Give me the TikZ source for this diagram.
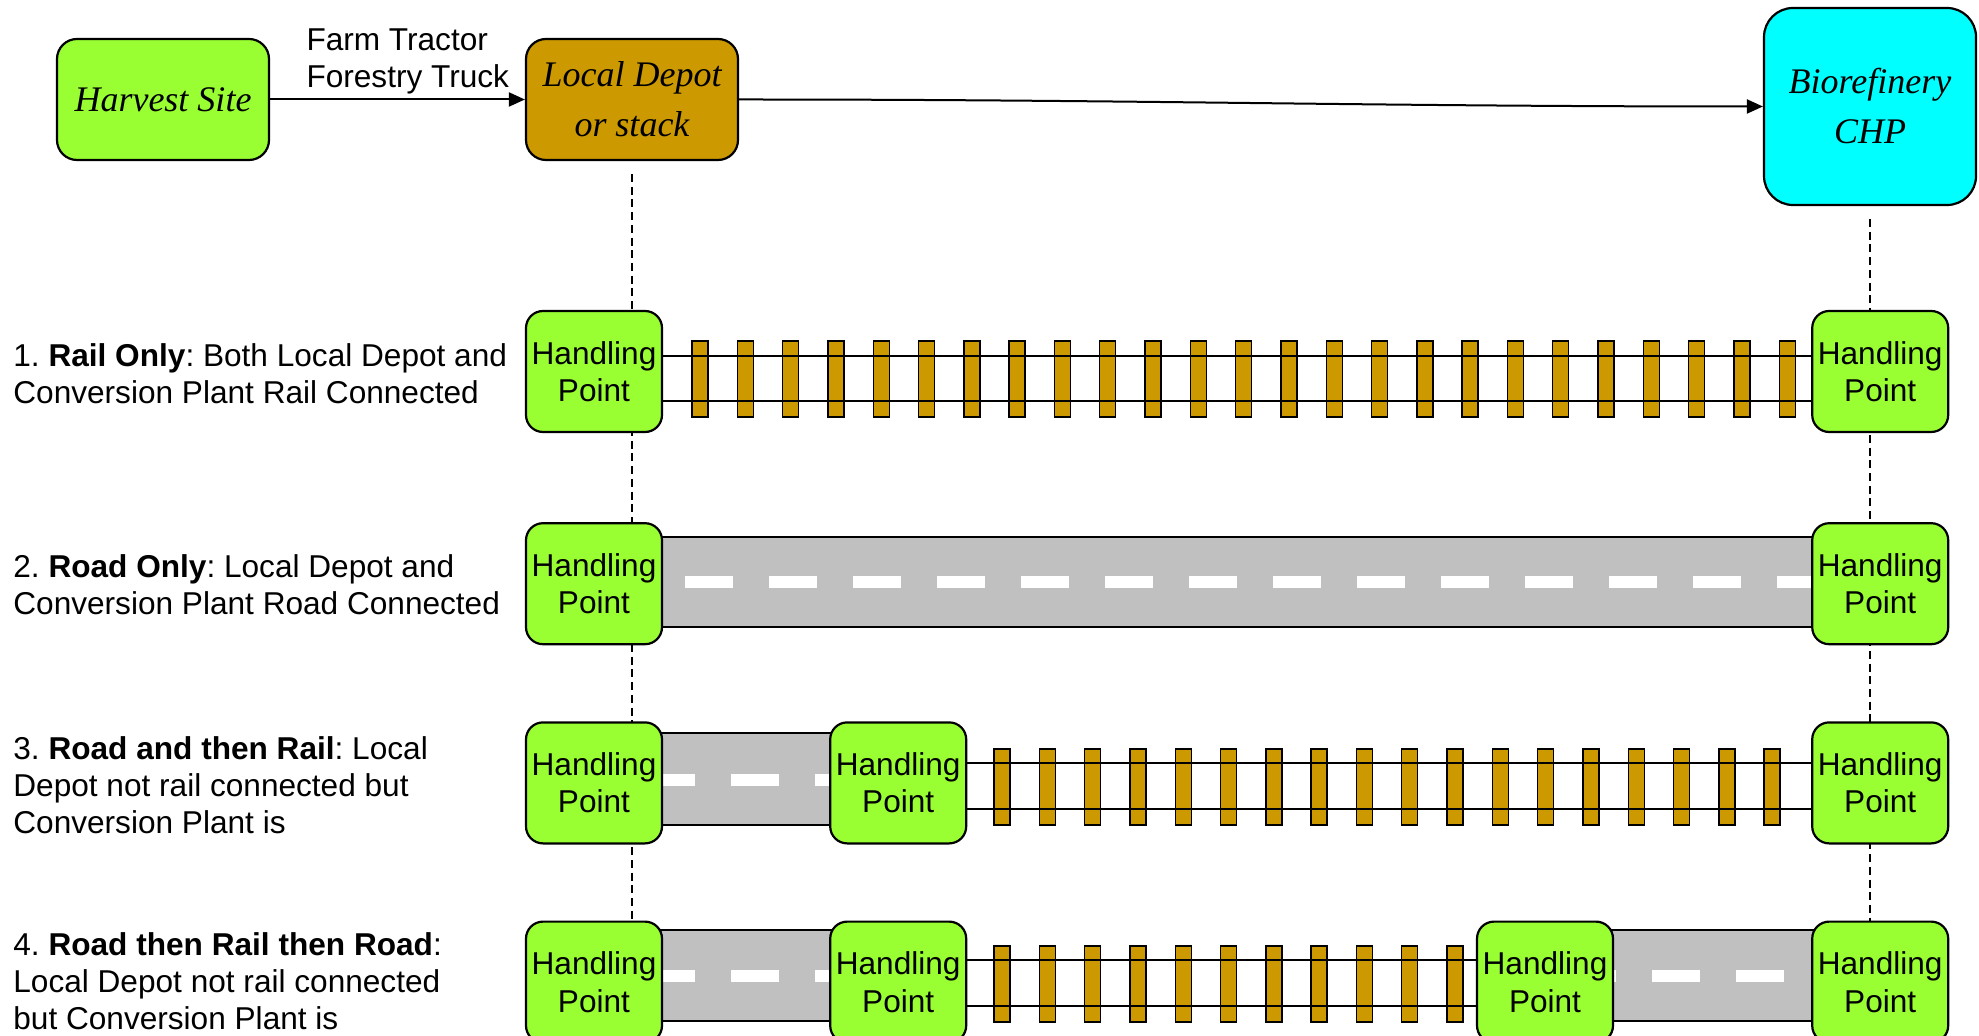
\documentclass[tikz,border=0pt]{standalone}
\usepackage{fontspec}
\setmainfont{Liberation Sans}
\newfontfamily\sitefont{Liberation Serif}
\frenchspacing
\usepackage{tikz}
\usetikzlibrary{positioning}
\usetikzlibrary{backgrounds}
\usetikzlibrary {arrows.meta}
\definecolor{grassgreen}{HTML}{99FF33}
\definecolor{depotgold}{HTML}{CC9900}
\definecolor{plantcyan}{HTML}{00FFFF}
\definecolor{roadgrey}{HTML}{C0C0C0}
\tikzset{site/.style={rectangle,rounded corners=10pt,draw=black,line width=1.1pt,
inner sep=0pt,minimum width=106pt,minimum height=60.5pt,align=center,
font=\sitefont\itshape\fontsize{18}{25}\selectfont}}
\tikzset{handling/.style={rectangle,rounded corners=8.5pt,draw=black,line width=1.1pt,
fill=grassgreen,inner sep=0pt,minimum width=68pt,minimum height=60.5pt,align=center,
font=\fontsize{15.8}{18.6}\selectfont}}
\tikzset{rowtext/.style={anchor=west,align=left,inner sep=0pt,
font=\fontsize{15.8}{18.6}\selectfont}}
\tikzset{tie/.style={draw=black,line width=0.7pt,fill=depotgold}}
\tikzset{rail/.style={draw=black,line width=1pt}}
\tikzset{roadbed/.style={draw=black,line width=1pt,fill=roadgrey}}
\tikzset{lane/.style={fill=white,draw=none}}
\tikzset{guide/.style={line width=1pt,dash pattern=on 4pt off 2.35pt}}
\tikzset{haul/.style={line width=1pt,-{Triangle[length=8pt,width=7pt]}}}

\begin{document}
\begin{tikzpicture}[x=0.5pt,y=-0.5pt]
    \useasboundingbox (0,0) rectangle (1979,1036);

        % supply chain along the top
        \node[site,fill=grassgreen] (harvest) at (163,99.5) {Harvest Site};
        \node[site,fill=depotgold] (depot) at (632,99.5) {Local Depot\\or stack};
        \node[site,fill=plantcyan,minimum height=98.5pt,rounded corners=14.5pt] (plant) at (1870,106.5) {Biorefinery\\CHP};

        \draw[haul] (harvest) -- (depot);
        \node[rowtext] (vehicles) [above right=2.4pt and 18pt of harvest.east] {Farm Tractor\\Forestry Truck};
        \draw[haul] (depot) to[out=0,in=180] (plant);

        % handling points
        \node[handling] (hpA1) at (594,371.5) {Handling\\Point};
        \node[handling] (hpD1) [right=574pt of hpA1] {Handling\\Point};

        \node[handling] (hpA2) [below=44.5pt of hpA1] {Handling\\Point};
        \node[handling] (hpD2) [right=574pt of hpA2] {Handling\\Point};

        \node[handling] (hpA3) [below=38pt of hpA2] {Handling\\Point};
        \node[handling] (hpB3) [right=83pt of hpA3] {Handling\\Point};
        \node[handling] (hpD3) [right=574pt of hpA3] {Handling\\Point};

        \node[handling] (hpA4) [below=38pt of hpA3] {Handling\\Point};
        \node[handling] (hpB4) [right=83pt of hpA4] {Handling\\Point};
        \node[handling] (hpD4) [right=574pt of hpA4] {Handling\\Point};
        \node[handling] (hpC4) [left=98.5pt of hpD4] {Handling\\Point};

        % case descriptions
        \node[rowtext] (caseA) at (13,374) {1. \textbf{Rail Only}: Both Local Depot and\\Conversion Plant Rail Connected};
        \node[rowtext] (caseB) at (13,585) {2. \textbf{Road Only}: Local Depot and\\Conversion Plant Road Connected};
        \node[rowtext] (caseC) at (13,785) {3. \textbf{Road and then Rail}: Local\\Depot not rail connected but\\Conversion Plant is};
        \node[rowtext] (caseD) at (13,981) {4. \textbf{Road then Rail then Road}:\\Local Depot not rail connected\\but Conversion Plant is};

        % roads and guide lines behind the boxes
        \begin{scope}[on background layer]
            \draw[guide] ([yshift=-6.5pt]depot.south) -- (depot |- hpA4.north);
            \draw[guide] ([yshift=-6.5pt]plant.south) -- (plant |- hpD4.north);

            \draw[roadbed] (hpA2.center |- 0,537) rectangle (hpD2.center |- 0,627);
            \foreach \k in {0,...,13} \fill[lane] ({685+84*\k},576) rectangle ++(48,12);

            \draw[roadbed] (hpA3.center |- 0,733) rectangle (hpB3.center |- 0,825);
            \foreach \k in {0,1,2} \fill[lane] ({647+84*\k},774) rectangle ++(48,12);

            \draw[roadbed] (hpA4.center |- 0,930) rectangle (hpB4.center |- 0,1021);
            \foreach \k in {0,1,2} \fill[lane] ({647+84*\k},970) rectangle ++(48,12);
            \draw[roadbed] (hpC4.center |- 0,930) rectangle (hpD4.center |- 0,1021);
            \foreach \k in {0,1,2} \fill[lane] ({1568+84*\k},970) rectangle ++(48,12);
        \end{scope}

        % rail lines
        \foreach \k in {0,...,24} \draw[tie] ({692+45.3*\k},341) rectangle ++(16,76);
        \draw[rail] (hpA1.east |- 0,356) -- (hpD1.west |- 0,356);
        \draw[rail] (hpA1.east |- 0,401) -- (hpD1.west |- 0,401);

        \foreach \k in {0,...,17} \draw[tie] ({994+45.3*\k},749) rectangle ++(16,76);
        \draw[rail] (hpB3.east |- 0,763) -- (hpD3.west |- 0,763);
        \draw[rail] (hpB3.east |- 0,809) -- (hpD3.west |- 0,809);

        \foreach \k in {0,...,10} \draw[tie] ({994+45.3*\k},946) rectangle ++(16,76);
        \draw[rail] (hpB4.east |- 0,960) -- (hpC4.west |- 0,960);
        \draw[rail] (hpB4.east |- 0,1006) -- (hpC4.west |- 0,1006);

    \end{tikzpicture}
\end{document}
